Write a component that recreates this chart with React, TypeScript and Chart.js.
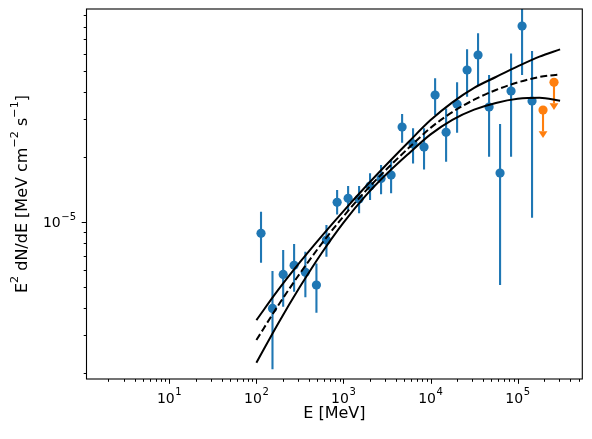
import { useEffect, useRef } from "react";
import { Chart, registerables } from "chart.js";

Chart.register(...registerables);

// ---- data ----
const energies = [113, 153, 203, 271, 365, 489, 637, 845, 1130, 1510, 2018, 2700, 3520, 4710, 6290, 8410, 11270, 15070, 20150, 26240, 35080, 46940, 62770, 83950, 112300, 146200];
const flux = [8.87e-6, 3.99e-6, 5.73e-6, 6.31e-6, 5.86e-6, 5.12e-6, 8.26e-6, 1.233e-5, 1.287e-5, 1.277e-5, 1.466e-5, 1.591e-5, 1.648e-5, 2.747e-5, 2.292e-5, 2.22e-5, 3.86e-5, 2.597e-5, 3.5e-5, 5.04e-5, 5.91e-5, 3.4e-5, 1.683e-5, 4.03e-5, 8.04e-5, 3.62e-5];
const fluxLow = [6.49e-6, 2.09e-6, 4.06e-6, 4.76e-6, 4.49e-6, 3.81e-6, 6.92e-6, 1.085e-5, 1.128e-5, 1.097e-5, 1.264e-5, 1.343e-5, 1.357e-5, 2.324e-5, 1.866e-5, 1.751e-5, 3.12e-5, 1.898e-5, 2.585e-5, 3.79e-5, 4.29e-5, 2.002e-5, 5.12e-6, 2.002e-5, 4.78e-5, 1.047e-5];
const fluxHigh = [1.116e-5, 5.94e-6, 7.43e-6, 7.91e-6, 7.3e-6, 6.44e-6, 9.68e-6, 1.406e-5, 1.466e-5, 1.466e-5, 1.679e-5, 1.833e-5, 1.948e-5, 3.153e-5, 2.709e-5, 2.709e-5, 4.61e-5, 3.35e-5, 4.42e-5, 6.28e-5, 7.44e-5, 4.78e-5, 2.836e-5, 6.01e-5, 1.13e-4, 6.16e-5];

const ulEnergies = [195400, 261200];
const ulFlux = [3.29e-5, 4.42e-5];
const ulEnd = [2.63e-5, 3.54e-5];

const modelEnergies = [100, 177.8, 316.2, 562.3, 1000, 1778, 3162, 5623, 10000, 17783, 31623, 56234, 100000, 177828, 306900];
const modelFlux = [2.851e-6, 4.117e-6, 5.792e-6, 7.949e-6, 1.063e-5, 1.386e-5, 1.763e-5, 2.203e-5, 2.723e-5, 3.221e-5, 3.673e-5, 4.074e-5, 4.416e-5, 4.677e-5, 4.808e-5];
const upperFlux = [3.524e-6, 4.859e-6, 6.529e-6, 8.617e-6, 1.124e-5, 1.451e-5, 1.854e-5, 2.35e-5, 2.958e-5, 3.573e-5, 4.169e-5, 4.677e-5, 5.236e-5, 5.808e-5, 6.274e-5];
const lowerFlux = [2.239e-6, 3.4e-6, 5.022e-6, 7.2e-6, 9.945e-6, 1.318e-5, 1.675e-5, 2.075e-5, 2.541e-5, 2.965e-5, 3.304e-5, 3.548e-5, 3.707e-5, 3.75e-5, 3.631e-5];

const xTickExponents = [1, 2, 3, 4, 5];
const yTickExponents = [-5];
const xTitle = "E [MeV]";
// y title as [text, isSuperscript] pieces: E^2 dN/dE [MeV cm^-2 s^-1]
const yTitleParts: [string, boolean][] = [
  ["E", false],
  ["2", true],
  [" dN/dE [MeV cm", false],
  ["\u22122", true],
  [" s", false],
  ["\u22121", true],
  ["]", false],
];

const X_MIN = 1.12;
const X_MAX = 5.52e5;
const Y_MIN = 1.884e-6;
const Y_MAX = 9.64e-5;

const BLUE = "#1f77b4";
const ORANGE = "#ff7f0e";
const FONT = "'DejaVu Sans', Verdana, sans-serif";
const TICK_SIZE = 14;
const TICK_SUP = 10;
const TITLE_SIZE = 16;

function logTicks(min: number, max: number) {
  const out: { value: number; major: boolean }[] = [];
  for (let e = Math.floor(Math.log10(min)); e <= Math.ceil(Math.log10(max)); e++) {
    for (let k = 1; k <= 9; k++) {
      const v = k * Math.pow(10, e);
      if (v >= min * 0.999 && v <= max * 1.001) out.push({ value: v, major: k === 1 });
    }
  }
  return out;
}

const xTicks = logTicks(X_MIN, X_MAX);
const yTicks = logTicks(Y_MIN, Y_MAX);

const expText = (n: number) => (n < 0 ? "\u2212" + String(-n) : String(n));

// draws "10^n" with a real superscript; anchor: 'center' or 'right'
function drawPower(ctx: CanvasRenderingContext2D, n: number, x: number, baseline: number, anchor: "center" | "right") {
  const big = `${TICK_SIZE}px ${FONT}`;
  const small = `${TICK_SUP}px ${FONT}`;
  ctx.font = big;
  const w1 = ctx.measureText("10").width + 0.6;
  ctx.font = small;
  const e = expText(n);
  const w2 = ctx.measureText(e).width + (n < 0 ? 1 : 0);
  const total = w1 + w2;
  const x0 = anchor === "center" ? x - total / 2 : x - total;
  ctx.textAlign = "left";
  ctx.textBaseline = "alphabetic";
  ctx.font = big;
  ctx.fillText("10", x0, baseline);
  ctx.font = small;
  ctx.fillText(e, x0 + w1, baseline - 7.6);
}

const decorPlugin = {
  id: "decor",
  beforeDatasetsDraw(chart: any) {
    const { ctx, chartArea, scales } = chart;
    const x = scales.x;
    const y = scales.y;
    ctx.save();
    ctx.beginPath();
    ctx.rect(chartArea.left, chartArea.top, chartArea.right - chartArea.left, chartArea.bottom - chartArea.top);
    ctx.clip();
    ctx.lineCap = "butt";
    ctx.strokeStyle = BLUE;
    ctx.lineWidth = 2.1;
    energies.forEach((e, i) => {
      const px = x.getPixelForValue(e);
      ctx.beginPath();
      ctx.moveTo(px, y.getPixelForValue(fluxLow[i]));
      ctx.lineTo(px, y.getPixelForValue(fluxHigh[i]));
      ctx.stroke();
    });
    ctx.strokeStyle = ORANGE;
    ctx.fillStyle = ORANGE;
    ulEnergies.forEach((e, i) => {
      const px = x.getPixelForValue(e);
      const p0 = y.getPixelForValue(ulFlux[i]);
      const p1 = y.getPixelForValue(ulEnd[i]);
      ctx.beginPath();
      ctx.moveTo(px, p0);
      ctx.lineTo(px, p1);
      ctx.stroke();
      ctx.beginPath();
      ctx.moveTo(px - 4.4, p1);
      ctx.lineTo(px + 4.4, p1);
      ctx.lineTo(px, p1 + 6.8);
      ctx.closePath();
      ctx.fill();
    });
    ctx.restore();
  },
  afterDraw(chart: any) {
    const { ctx, chartArea, scales } = chart;
    const x = scales.x;
    const y = scales.y;
    ctx.save();
    ctx.strokeStyle = "#000";
    ctx.fillStyle = "#000";
    ctx.lineWidth = 1.1;
    ctx.strokeRect(chartArea.left, chartArea.top, chartArea.right - chartArea.left, chartArea.bottom - chartArea.top);
    ctx.lineWidth = 1;
    xTicks.forEach((t) => {
      const px = Math.round(x.getPixelForValue(t.value)) + 0.5;
      const len = t.major ? 4.8 : 2.8;
      ctx.beginPath();
      ctx.moveTo(px, chartArea.bottom);
      ctx.lineTo(px, chartArea.bottom + len);
      ctx.stroke();
    });
    yTicks.forEach((t) => {
      const py = Math.round(y.getPixelForValue(t.value)) + 0.5;
      const len = t.major ? 4.8 : 2.8;
      ctx.beginPath();
      ctx.moveTo(chartArea.left, py);
      ctx.lineTo(chartArea.left - len, py);
      ctx.stroke();
    });
    // tick labels
    xTickExponents.forEach((n) => {
      const px = x.getPixelForValue(Math.pow(10, n));
      drawPower(ctx, n, px, chartArea.bottom + 23.8, "center");
    });
    yTickExponents.forEach((n) => {
      const py = y.getPixelForValue(Math.pow(10, n));
      drawPower(ctx, n, chartArea.left - 9.4, py + 5.1, "right");
    });
    // x title
    ctx.font = `${TITLE_SIZE}px ${FONT}`;
    ctx.textAlign = "center";
    ctx.textBaseline = "alphabetic";
    ctx.fillText(xTitle, (chartArea.left + chartArea.right) / 2, 418.3);
    // y title (rotated, with superscripts)
    const big = `${TITLE_SIZE}px ${FONT}`;
    const small = `${TITLE_SIZE * 0.7}px ${FONT}`;
    let total = 0;
    const widths = yTitleParts.map(([s, sup]) => {
      ctx.font = sup ? small : big;
      const w = ctx.measureText(s).width;
      total += w;
      return w;
    });
    ctx.translate(26.7, (chartArea.top + chartArea.bottom) / 2);
    ctx.rotate(-Math.PI / 2);
    ctx.textAlign = "left";
    let cx = -total / 2;
    yTitleParts.forEach(([s, sup], i) => {
      ctx.font = sup ? small : big;
      ctx.fillText(s, cx, sup ? -8.6 : 0);
      cx += widths[i];
    });
    ctx.restore();
  },
};

export default function App() {
  const ref = useRef<HTMLCanvasElement | null>(null);

  useEffect(() => {
    if (!ref.current) return;
    const toXY = (xs: number[], ys: number[]) => xs.map((v, i) => ({ x: v, y: ys[i] }));
    const chart = new Chart(ref.current, {
      type: "scatter",
      data: {
        datasets: [
          {
            label: "upper",
            data: toXY(modelEnergies, upperFlux),
            showLine: true,
            borderColor: "#000",
            borderWidth: 2,
            pointRadius: 0,
            cubicInterpolationMode: "monotone",
            order: 0,
          },
          {
            label: "model",
            data: toXY(modelEnergies, modelFlux),
            showLine: true,
            borderColor: "#000",
            borderWidth: 2,
            borderDash: [7, 3.2],
            pointRadius: 0,
            cubicInterpolationMode: "monotone",
            order: 0,
          },
          {
            label: "lower",
            data: toXY(modelEnergies, lowerFlux),
            showLine: true,
            borderColor: "#000",
            borderWidth: 2,
            pointRadius: 0,
            cubicInterpolationMode: "monotone",
            order: 0,
          },
          {
            label: "flux",
            data: toXY(energies, flux),
            backgroundColor: BLUE,
            borderColor: BLUE,
            borderWidth: 0,
            pointRadius: 4.6,
            order: 1,
          },
          {
            label: "upper limits",
            data: toXY(ulEnergies, ulFlux),
            backgroundColor: ORANGE,
            borderColor: ORANGE,
            borderWidth: 0,
            pointRadius: 4.6,
            order: 1,
          },
        ],
      } as any,
      options: {
        animation: false,
        responsive: false,
        devicePixelRatio: 1,
        layout: { padding: { top: 9, right: 9.7, left: 0, bottom: 0 } },
        plugins: { legend: { display: false }, tooltip: { enabled: false } },
        scales: {
          x: {
            type: "logarithmic",
            min: X_MIN,
            max: X_MAX,
            bounds: "data",
            grid: { display: false, drawTicks: false },
            border: { display: false },
            ticks: { display: false, autoSkip: false },
            afterBuildTicks: (s: any) => {
              s.ticks = xTicks.map((t) => ({ value: t.value, major: false }));
            },
            afterFit: (s: any) => {
              s.height = 60;
              s.paddingLeft = 0;
              s.paddingRight = 0;
              s.paddingTop = 0;
              s.paddingBottom = 0;
            },
            title: { display: false },
          },
          y: {
            type: "logarithmic",
            min: Y_MIN,
            max: Y_MAX,
            bounds: "data",
            grid: { display: false, drawTicks: false },
            border: { display: false },
            ticks: { display: false, autoSkip: false },
            afterBuildTicks: (s: any) => {
              s.ticks = yTicks.map((t) => ({ value: t.value, major: false }));
            },
            afterFit: (s: any) => {
              s.width = 86.5;
              s.paddingLeft = 0;
              s.paddingRight = 0;
              s.paddingTop = 0;
              s.paddingBottom = 0;
            },
            title: { display: false },
          },
        },
      } as any,
      plugins: [decorPlugin],
    });
    return () => chart.destroy();
  }, []);

  return (
    <div style={{ position: "absolute", left: 0, top: 0, width: 592, height: 439, background: "#fff" }}>
      <canvas ref={ref} width={592} height={439} style={{ display: "block", width: 592, height: 439 }} />
    </div>
  );
}
